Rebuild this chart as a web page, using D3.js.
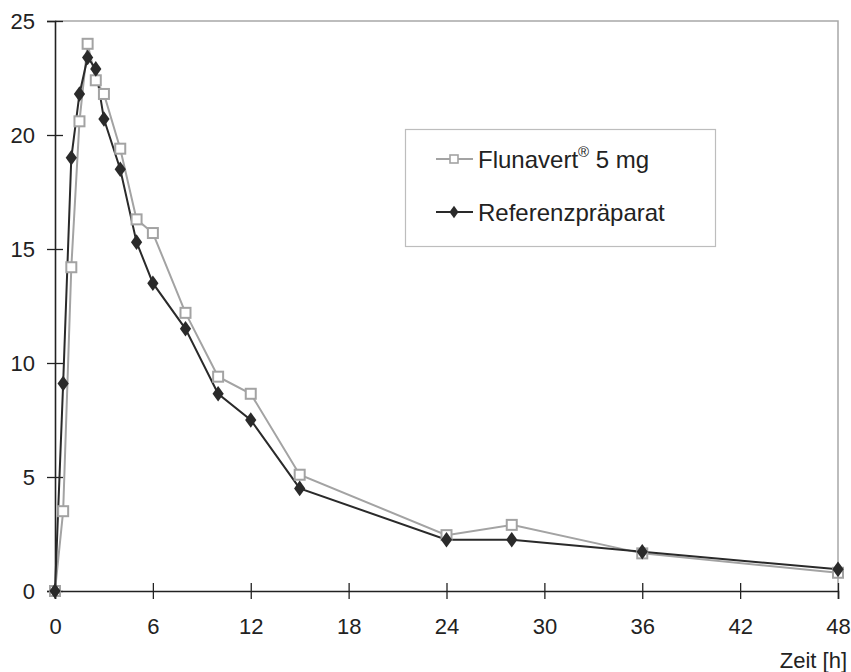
<!DOCTYPE html>
<html>
<head>
<script src="https://d3js.org/d3.v7.min.js"></script>
<style>
  body { margin: 0; background: #fff; }
  text { font-family: "Liberation Sans", Arial, sans-serif; fill: #222; }
</style>
</head>
<body>
<script>
// data
var hours = [0, 0.5, 1, 1.5, 2, 2.5, 3, 4, 5, 6, 8, 10, 12, 15, 24, 28, 36, 48];
var flunavert = [0, 3.5, 14.2, 20.6, 24.0, 22.4, 21.8, 19.4, 16.3, 15.7, 12.2, 9.4, 8.65, 5.1, 2.45, 2.9, 1.65, 0.8];
var referenz = [0, 9.1, 19.0, 21.8, 23.4, 22.9, 20.7, 18.5, 15.3, 13.5, 11.5, 8.65, 7.5, 4.5, 2.25, 2.25, 1.72, 0.95];
var xTicks = [0, 6, 12, 18, 24, 30, 36, 42, 48];
var yTicks = [0, 5, 10, 15, 20, 25];
var seriesNames = ["Flunavert", "Referenzpräparat"];

var w = 851, h = 672;
var pLeft = 55, pRight = 838, pTop = 21, pBottom = 591;

var x = d3.scaleLinear().domain([0, 48]).range([pLeft, pRight]);
var y = d3.scaleLinear().domain([0, 25]).range([pBottom, pTop]);

var svg = d3.select("body").append("svg")
  .attr("width", w)
  .attr("height", h);

// plot frame (top / right in grey)
svg.append("path")
  .attr("d", "M" + pLeft + "," + pTop + "H" + pRight + "V" + pBottom)
  .attr("fill", "none")
  .attr("stroke", "#a8a8a8")
  .attr("stroke-width", 1.5);

// axes, ticks cross the axis line
var xAxis = svg.append("g")
  .attr("transform", "translate(0," + pBottom + ")")
  .call(d3.axisBottom(x).tickValues(xTicks).tickSize(8).tickPadding(19));
xAxis.selectAll(".tick line").attr("y1", -8);

var yAxis = svg.append("g")
  .attr("transform", "translate(" + pLeft + ",0)")
  .call(d3.axisLeft(y).tickValues(yTicks).tickSize(8).tickPadding(12));
yAxis.selectAll(".tick line").attr("x1", 8);

[xAxis, yAxis].forEach(function(a) {
  a.select(".domain").attr("stroke", "#222").attr("stroke-width", 1.6);
  a.selectAll(".tick line").attr("stroke", "#222").attr("stroke-width", 1.3);
  a.selectAll("text")
    .attr("font-size", 22)
    .attr("font-family", "Liberation Sans, Arial, sans-serif")
    .attr("fill", "#222");
});
yAxis.selectAll("text").attr("dy", "0.36em");

svg.append("text")
  .attr("x", 847)
  .attr("y", 668)
  .attr("text-anchor", "end")
  .attr("font-size", 22)
  .text("Zeit [h]");

// lines
var line = function(vals) {
  return d3.line()
    .x(function(d, i) { return x(hours[i]); })
    .y(function(d) { return y(d); })(vals);
};

svg.append("path")
  .attr("d", line(flunavert))
  .attr("fill", "none")
  .attr("stroke", "#a3a3a3")
  .attr("stroke-width", 2);

svg.append("path")
  .attr("d", line(referenz))
  .attr("fill", "none")
  .attr("stroke", "#2a2a2a")
  .attr("stroke-width", 2);

// markers
svg.append("g").selectAll("rect")
  .data(flunavert)
  .enter().append("rect")
    .attr("x", function(d, i) { return x(hours[i]) - 5; })
    .attr("y", function(d) { return y(d) - 5; })
    .attr("width", 10)
    .attr("height", 10)
    .attr("fill", "#fff")
    .attr("stroke", "#a3a3a3")
    .attr("stroke-width", 2);

var diamond = d3.symbol().type(d3.symbolDiamond).size(70);
svg.append("g").selectAll("path")
  .data(referenz)
  .enter().append("path")
    .attr("d", diamond)
    .attr("transform", function(d, i) { return "translate(" + x(hours[i]) + "," + y(d) + ") scale(1.25,1)"; })
    .attr("fill", "#2a2a2a");

// legend
var legend = svg.append("g");
legend.append("rect")
  .attr("x", 405.5)
  .attr("y", 129.5)
  .attr("width", 310)
  .attr("height", 117)
  .attr("fill", "#fff")
  .attr("stroke", "#bdbdbd")
  .attr("stroke-width", 1.2);

var ly = [159, 212];
legend.append("line")
  .attr("x1", 436).attr("x2", 473).attr("y1", ly[0]).attr("y2", ly[0])
  .attr("stroke", "#a3a3a3").attr("stroke-width", 2);
legend.append("rect")
  .attr("x", 450).attr("y", ly[0] - 4).attr("width", 8).attr("height", 8)
  .attr("fill", "#fff").attr("stroke", "#a3a3a3").attr("stroke-width", 1.6);
legend.append("line")
  .attr("x1", 436).attr("x2", 473).attr("y1", ly[1]).attr("y2", ly[1])
  .attr("stroke", "#2a2a2a").attr("stroke-width", 2);
legend.append("path")
  .attr("d", d3.symbol().type(d3.symbolDiamond).size(45))
  .attr("transform", "translate(454," + ly[1] + ") scale(1.25,1)")
  .attr("fill", "#2a2a2a");

var t1 = legend.append("text")
  .attr("x", 478).attr("y", ly[0] + 9)
  .attr("font-size", 24);
t1.append("tspan").text(seriesNames[0]);
t1.append("tspan").attr("font-size", 15).attr("dy", -11).text("®");
t1.append("tspan").attr("dy", 11).text(" 5 mg");

legend.append("text")
  .attr("x", 478).attr("y", ly[1] + 9)
  .attr("font-size", 24)
  .text(seriesNames[1]);
</script>
</body>
</html>
